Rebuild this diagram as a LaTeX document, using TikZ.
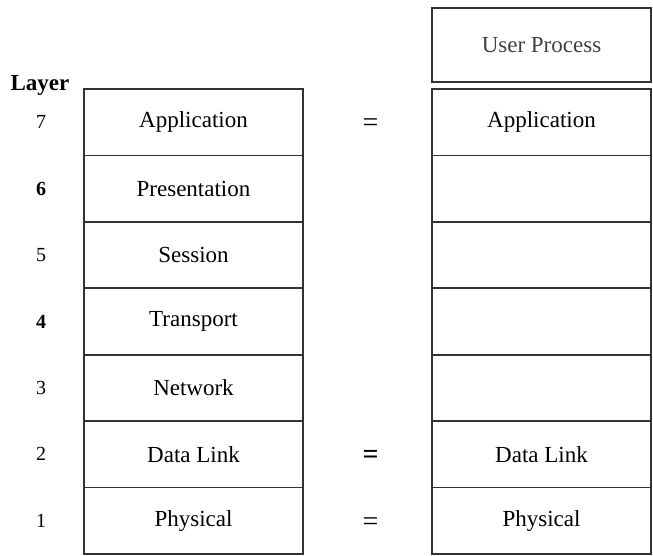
\documentclass[tikz,border=0pt]{standalone}
\usepackage{fontspec}
\setmainfont{Liberation Serif}
\begin{document}
\begin{tikzpicture}[x=1pt,y=-1pt,
  every node/.style={font=\fontsize{23}{27}\selectfont},
  layerbox/.style={draw=black!80, line width=1.6pt, minimum width=219pt,
    minimum height=66.43pt, inner sep=0pt, outer sep=0pt},
  numlabel/.style={font=\fontsize{20}{24}\selectfont},
  eqsign/.style={font=\fontsize{28}{32}\selectfont, xshift=3pt, yshift=-3pt}]
\useasboundingbox (0,0) rectangle (653,555);

% user process box above the right stack
\node[layerbox, minimum height=74pt, text=black!75] (up) at (541.5,45) {User Process};

% left stack (full OSI model)
\foreach \n/\t [count=\i from 0] in {7/Application,6/Presentation,5/Session,4/Transport,3/Network,2/Data Link,1/Physical}{
  \node[layerbox] (L\n) at (193.5,{89+(\i+0.5)*66.43}) {\t};
}

% right stack (reduced model)
\foreach \n/\t [count=\i from 0] in {7/Application,6/,5/,4/,3/,2/Data Link,1/Physical}{
  \node[layerbox] (R\n) at (541.5,{89+(\i+0.5)*66.43}) {\t};
}

% layer numbers
\node[font=\fontsize{23}{27}\selectfont\bfseries, anchor=base] (lay) at (40,90) {Layer};
\foreach \n/\s in {7/,6/\bfseries,5/,4/\bfseries,3/,2/,1/}{
  \node[numlabel] (N\n) at (41,{89+(7-\n+0.5)*66.43}) {\s\n};
}

% peer equivalences
\path (L7) -- node[eqsign] (E7) {=} (R7);
\path (L2) -- node[eqsign] (E2) {\textbf{=}} (R2);
\path (L1) -- node[eqsign] (E1) {=} (R1);
\end{tikzpicture}
\end{document}
